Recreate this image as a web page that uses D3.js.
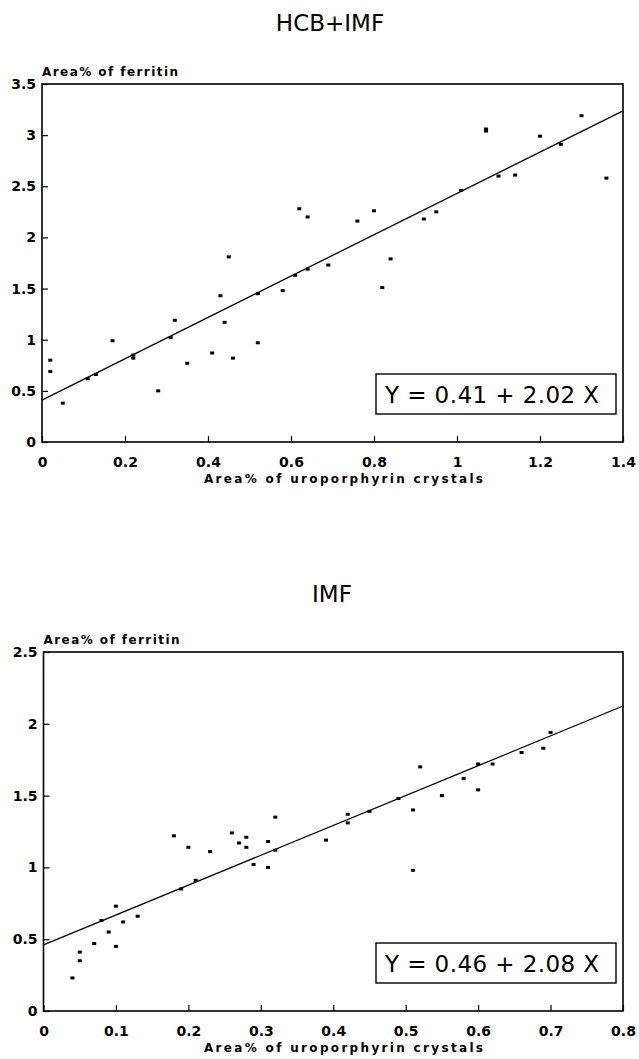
<!DOCTYPE html>
<html>
<head>
<meta charset="utf-8">
<script src="https://cdn.jsdelivr.net/npm/d3@7"></script>
<style>
  body { margin: 0; background: #fff; }
  svg { display: block; }
  .tick text { font-family: "DejaVu Sans", sans-serif; font-weight: bold; font-size: 14px; fill: #000; }
  .tick line { stroke: #000; stroke-width: 1.2; }
</style>
</head>
<body>
<div id="chart"></div>
<script>

// HCB+IMF panel
const hcbX = [0.02, 0.02, 0.05, 0.11, 0.13, 0.17, 0.22, 0.22, 0.28, 0.31,
              0.32, 0.35, 0.41, 0.43, 0.44, 0.45, 0.46, 0.52, 0.52, 0.58,
              0.61, 0.62, 0.64, 0.64, 0.69, 0.76, 0.80, 0.82, 0.84, 0.92,
              0.95, 1.01, 1.07, 1.07, 1.10, 1.14, 1.20, 1.25, 1.30, 1.36];
const hcbY = [0.80, 0.69, 0.38, 0.62, 0.66, 0.99, 0.85, 0.82, 0.50, 1.02,
              1.19, 0.77, 0.87, 1.43, 1.17, 1.81, 0.82, 1.45, 0.97, 1.48,
              1.63, 2.28, 2.20, 1.69, 1.73, 2.16, 2.26, 1.51, 1.79, 2.18,
              2.25, 2.46, 3.04, 3.06, 2.60, 2.61, 2.99, 2.91, 3.19, 2.58];
const hcbXTicks = [0, 0.2, 0.4, 0.6, 0.8, 1, 1.2, 1.4];
const hcbYTicks = [0, 0.5, 1, 1.5, 2, 2.5, 3, 3.5];
const hcbFit = [0.41, 2.02];

// IMF panel
const imfX = [0.04, 0.05, 0.05, 0.07, 0.08, 0.09, 0.10, 0.10, 0.11, 0.13,
              0.18, 0.19, 0.20, 0.21, 0.23, 0.26, 0.27, 0.28, 0.28, 0.29,
              0.31, 0.31, 0.32, 0.32, 0.39, 0.42, 0.42, 0.45, 0.49, 0.51,
              0.51, 0.52, 0.55, 0.58, 0.60, 0.60, 0.62, 0.66, 0.69, 0.70];
const imfY = [0.23, 0.41, 0.35, 0.47, 0.63, 0.55, 0.45, 0.73, 0.62, 0.66,
              1.22, 0.85, 1.14, 0.91, 1.11, 1.24, 1.17, 1.21, 1.14, 1.02,
              1.18, 1.00, 1.35, 1.12, 1.19, 1.37, 1.31, 1.39, 1.48, 1.40,
              0.98, 1.70, 1.50, 1.62, 1.72, 1.54, 1.72, 1.80, 1.83, 1.94];
const imfXTicks = [0, 0.1, 0.2, 0.3, 0.4, 0.5, 0.6, 0.7, 0.8];
const imfYTicks = [0, 0.5, 1, 1.5, 2, 2.5];
const imfFit = [0.46, 2.08];

const yTitle = "Area% of ferritin";
const xTitle = "Area% of uroporphyrin crystals";

let svg = d3.select("#chart").append("svg")
    .attr("width", 639)
    .attr("height", 1059);

function drawPanel(opts) {
    let xScale = d3.scaleLinear().domain([0, d3.max(opts.xTicks)]).range([opts.left, opts.right]);
    let yScale = d3.scaleLinear().domain([0, d3.max(opts.yTicks)]).range([opts.bottom, opts.top]);

    let g = svg.append("g");

    // title
    g.append("text")
        .attr("x", opts.titleX)
        .attr("y", opts.titleY)
        .attr("text-anchor", "middle")
        .style("font-family", "DejaVu Sans, sans-serif")
        .style("font-size", "23px")
        .text(opts.title);

    // axes, ticks pointing inward
    let xAxis = g.append("g")
        .attr("transform", "translate(0," + opts.bottom + ")")
        .call(d3.axisBottom(xScale).tickValues(opts.xTicks).tickFormat(d => String(d))
            .tickSizeInner(-6).tickSizeOuter(0).tickPadding(15));
    xAxis.select(".domain").remove();

    let yAxis = g.append("g")
        .attr("transform", "translate(" + opts.left + ",0)")
        .call(d3.axisLeft(yScale).tickValues(opts.yTicks).tickFormat(d => String(d))
            .tickSizeInner(-6).tickSizeOuter(0).tickPadding(6));
    yAxis.select(".domain").remove();

    // frame
    g.append("rect")
        .attr("x", opts.left)
        .attr("y", opts.top)
        .attr("width", opts.right - opts.left)
        .attr("height", opts.bottom - opts.top)
        .attr("fill", "none")
        .attr("stroke", "#000")
        .attr("stroke-width", 1.6);

    // axis titles
    g.append("text")
        .attr("x", opts.left)
        .attr("y", opts.top - 8)
        .style("font-family", "DejaVu Sans, sans-serif")
        .style("font-weight", "bold")
        .style("font-size", "12px")
        .attr("textLength", 136)
        .attr("lengthAdjust", "spacing")
        .text(yTitle);

    g.append("text")
        .attr("x", 343 - 139)
        .attr("y", opts.bottom + 41)
        .style("font-family", "DejaVu Sans, sans-serif")
        .style("font-weight", "bold")
        .style("font-size", "12px")
        .attr("textLength", 279)
        .attr("lengthAdjust", "spacing")
        .text(xTitle);

    // regression line
    let x0 = 0, x1 = d3.max(opts.xTicks);
    g.append("line")
        .attr("x1", xScale(x0))
        .attr("y1", yScale(opts.fit[0] + opts.fit[1] * x0))
        .attr("x2", xScale(x1))
        .attr("y2", yScale(opts.fit[0] + opts.fit[1] * x1))
        .attr("stroke", "#000")
        .attr("stroke-width", 1.3);

    // points
    let pts = opts.xs.map((x, i) => ({x: x, y: opts.ys[i]}));
    g.selectAll("rect.pt").data(pts).enter().append("rect")
        .classed("pt", true)
        .attr("x", d => xScale(d.x) - 2)
        .attr("y", d => yScale(d.y) - 1.5)
        .attr("width", 4)
        .attr("height", 3)
        .attr("fill", "#000");

    // equation box
    let bx = opts.right - 247, by = opts.bottom - 68;
    g.append("rect")
        .attr("x", bx)
        .attr("y", by)
        .attr("width", 240)
        .attr("height", 40)
        .attr("fill", "#fff")
        .attr("stroke", "#000")
        .attr("stroke-width", 1.4);

    g.append("text")
        .attr("x", bx + 9)
        .attr("y", by + 29)
        .style("font-family", "DejaVu Sans, sans-serif")
        .style("font-size", "23px")
        .attr("textLength", 214)
        .attr("lengthAdjust", "spacing")
        .text("Y = " + opts.fit[0].toFixed(2) + " + " + opts.fit[1].toFixed(2) + " X");
}

drawPanel({
    title: "HCB+IMF", titleX: 330, titleY: 31,
    left: 42, right: 623, top: 84, bottom: 442,
    xTicks: hcbXTicks, yTicks: hcbYTicks,
    xs: hcbX, ys: hcbY, fit: hcbFit
});

drawPanel({
    title: "IMF", titleX: 332, titleY: 602,
    left: 43.5, right: 623, top: 652, bottom: 1011,
    xTicks: imfXTicks, yTicks: imfYTicks,
    xs: imfX, ys: imfY, fit: imfFit
});

</script>
</body>
</html>
